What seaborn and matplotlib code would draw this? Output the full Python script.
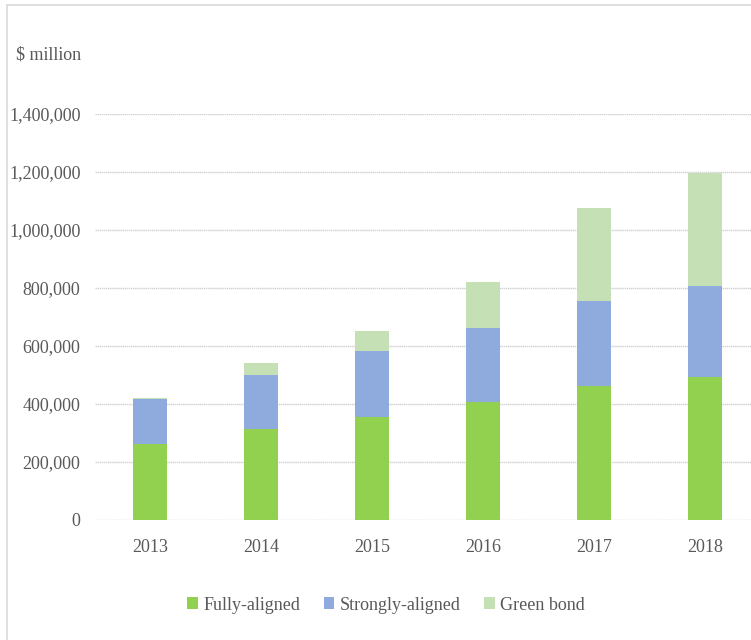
import matplotlib
matplotlib.use("Agg")
import matplotlib.pyplot as plt
import seaborn as sns
import pandas as pd
import numpy as np
from matplotlib.lines import Line2D
from matplotlib.patches import Patch
from matplotlib.ticker import FuncFormatter

years = ["2013", "2014", "2015", "2016", "2017", "2018"]
fully_aligned = [262000, 315000, 355000, 408000, 462000, 494000]
strongly_aligned = [154000, 186000, 227000, 253000, 293000, 314000]
green_bond = [6000, 40000, 69000, 160000, 320000, 389000]
series_names = ["Fully-aligned", "Strongly-aligned", "Green bond"]
colors = ["#92d050", "#8faadc", "#c5e0b4"]

sns.set_theme(style="white")
plt.rcParams["font.family"] = ["Liberation Serif", "DejaVu Serif"]

df = pd.DataFrame({"year": years, "f": fully_aligned, "s": strongly_aligned, "g": green_bond})
df["c1"] = df["f"]
df["c2"] = df["f"] + df["s"]
df["c3"] = df["c2"] + df["g"]

fig = plt.figure(figsize=(7.51, 6.40), dpi=100)
ax = fig.add_axes([94.5 / 751, (640 - 520) / 640, (751 - 94.5) / 751, (520 - 114) / 640])

for col, c in zip(["c3", "c2", "c1"], [colors[2], colors[1], colors[0]]):
    sns.barplot(data=df, x="year", y=col, color=c, width=0.31, ax=ax,
                saturation=1, edgecolor="none", linewidth=0, zorder=3)

ax.set_xlim(-0.5, 5.414)
ax.set_ylim(0, 1400000)
ax.set_yticks(np.arange(0, 1400001, 200000))
ax.yaxis.set_major_formatter(FuncFormatter(lambda v, p: f"{int(v):,}"))
ax.grid(axis="y", color="#d0d0d0", linewidth=1.0, linestyle=(0, (1, 0.5)), zorder=0)
ax.grid(axis="x", visible=False)
for s in ax.spines.values():
    s.set_visible(False)
ax.set_xlabel("")
ax.set_ylabel("")
ax.tick_params(axis="both", length=0, labelsize=13, colors="#595959")
ax.tick_params(axis="y", pad=10)
ax.tick_params(axis="x", pad=14)

fig.text(16 / 751, 1 - 55 / 640, "$ million", fontsize=13, color="#595959", va="center", ha="left")

handles = [Patch(facecolor=c, edgecolor="none") for c in colors]
fig.legend(handles, series_names, loc="center", bbox_to_anchor=(386 / 751, 1 - 605 / 640),
           ncol=3, frameon=False, fontsize=13, handlelength=0.6, handleheight=0.6,
           handletextpad=0.3, columnspacing=1.3, labelcolor="#595959")

fig.add_artist(Line2D([7 / 751, 7 / 751], [0, 1 - 5 / 640], color="#d9d9d9", linewidth=1.2))
fig.add_artist(Line2D([7 / 751, 1], [1 - 5 / 640, 1 - 5 / 640], color="#d9d9d9", linewidth=1.2))

fig.savefig("out.png", dpi=100, facecolor="white")
